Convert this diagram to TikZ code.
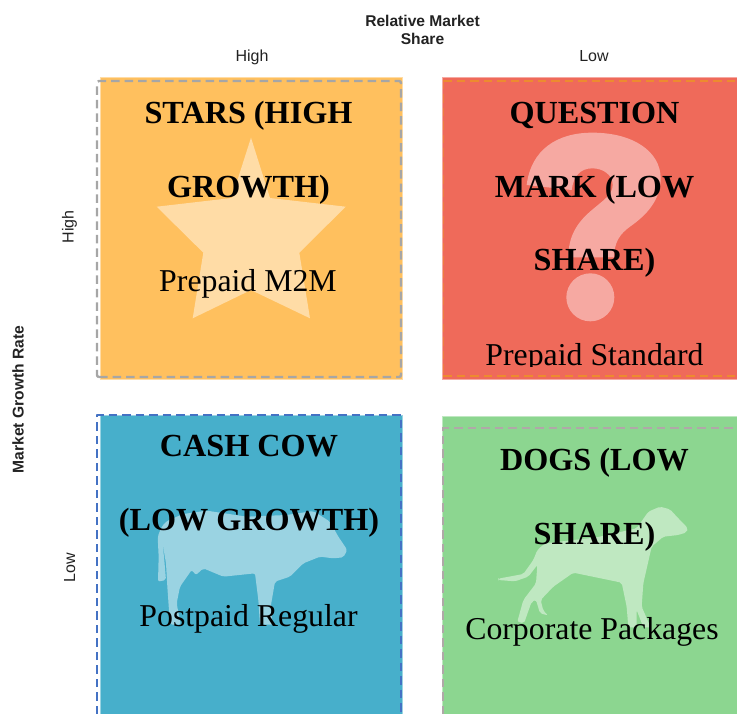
\documentclass[tikz,border=0pt]{standalone}
\usepackage{fontspec}
\setmainfont{Liberation Serif}
\setsansfont{Liberation Sans}
\definecolor{cOrange}{HTML}{FFC05E}
\definecolor{cOrangeL}{HTML}{FFDCA6}
\definecolor{cRed}{HTML}{EF6A5A}
\definecolor{cRedL}{HTML}{F6A9A2}
\definecolor{cBlue}{HTML}{47AFCB}
\definecolor{cBlueL}{HTML}{9AD3E2}
\definecolor{cGreen}{HTML}{8CD690}
\definecolor{cGreenL}{HTML}{BFE8C1}
\definecolor{dGray}{HTML}{A6A6A6}
\definecolor{dOrange}{HTML}{ED8B2F}
\definecolor{dBlue}{HTML}{4472C4}
\definecolor{dMauve}{HTML}{B0A8A8}
\definecolor{axisText}{HTML}{222222}
\tikzset{
  quad/.style={line width=0.8pt},
  dashline/.style={line width=2.4pt,dash pattern=on 8.5pt off 5pt,line join=round},
  dashthin/.style={line width=1.8pt,dash pattern=on 8.5pt off 5pt},
  title/.style={anchor=base,inner sep=0pt,font=\fontsize{32.2}{33}\selectfont\bfseries},
  item/.style={anchor=base,inner sep=0pt,font=\fontsize{31.8}{32}\selectfont},
  axisbold/.style={anchor=base,inner sep=0pt,text=axisText,font=\sffamily\fontsize{15.6}{16}\selectfont\bfseries},
  axislabel/.style={anchor=base,inner sep=0pt,text=axisText,font=\sffamily\fontsize{16}{16}\selectfont},
}
\begin{document}
\begin{tikzpicture}[x=1pt,y=-1pt]
\useasboundingbox (0,0) rectangle (737,714);
% quadrants
\draw[quad,fill=cOrange,draw=cOrangeL] (100,77) rectangle (402,379);
\draw[quad,fill=cRed,draw=cRedL] (442,77) rectangle (738,379);
\draw[quad,fill=cBlue,draw=cBlueL] (100,415) rectangle (402,715);
\draw[quad,fill=cGreen,draw=cGreenL] (442,416) rectangle (738,715);
% star
\fill[cOrangeL] (251,137.7)--(270,198)--(345.7,206.7)--(299.3,252.7)--(310,318.3)--(251,290)--(192.7,318.3)--(203.3,252.7)--(156.7,206.7)--(231.7,198)--cycle;
% question mark
\begin{scope}[shift={(430,60)},scale=1/3]
\fill[cRedL] (290,375) .. controls (303,270) and (380,218) .. (487,218)
  .. controls (610,218) and (692,275) .. (692,355)
  .. controls (692,420) and (650,465) .. (600,500)
  .. controls (570,522) and (553,545) .. (552,592)
  -- (415,592)
  .. controls (415,530) and (440,490) .. (480,455)
  .. controls (520,420) and (548,405) .. (548,375)
  .. controls (548,345) and (520,325) .. (487,325)
  .. controls (450,325) and (430,350) .. (425,390) -- cycle;
\fill[cRedL] (481,712) circle[radius=72];
\end{scope}
% cow
\begin{scope}[shift={(80,400)},scale=1/3]
\fill[cBlueL,rounded corners=2pt] (233,410) -- (245,380) -- (262,362) -- (310,342) -- (380,332) -- (500,350) -- (620,345) -- (700,333) -- (750,365) -- (775,410) -- (802,450) -- (790,472) -- (760,475) -- (720,470) -- (670,490) -- (630,530) -- (585,545) -- (572,620) -- (578,674) -- (540,674) -- (535,600) -- (525,520) -- (430,530) -- (370,505) -- (348,525) -- (335,510) -- (300,560) -- (290,610) -- (302,674) -- (270,674) -- (262,560) -- (258,490) -- (246,420) -- (252,470) -- (258,540) -- (234,545) -- (236,470) -- cycle;
\end{scope}
% dog
\begin{scope}[shift={(430,400)},scale=1/3]
\fill[cGreenL,rounded corners=2pt] (774,385) -- (745,355) -- (720,328) -- (690,320) -- (655,335) -- (620,385) -- (500,412) -- (345,430) -- (322,450) -- (310,480) -- (280,522) -- (205,536) -- (205,540) -- (255,544) -- (295,530) -- (322,495) -- (318,550) -- (280,600) -- (262,665) -- (282,670) -- (305,605) -- (318,600) -- (330,640) -- (354,646) -- (340,632) -- (332,600) -- (370,560) -- (430,518) -- (575,548) -- (590,620) -- (595,682) -- (620,682) -- (620,630) -- (640,682) -- (662,682) -- (635,620) -- (640,550) -- (665,440) -- (700,410) -- (745,405) -- (770,397) -- cycle;
\end{scope}
% dashed outlines
\draw[dashline,dGray,rounded corners=2pt] (97,377) -- (401,377) -- (401,81) -- (97,81) -- cycle;
\draw[dashthin,dOrange] (443,81) -- (737,81);
\draw[dashthin,dOrange] (443,376) -- (737,376);
\draw[dashthin,dOrange!60!cRed,line width=1pt] (443,81) -- (443,376);
\draw[dashline,dBlue] (97,714) -- (97,415) -- (401,415) -- (401,714);
\draw[dashthin,dMauve] (443,714) -- (443,428) -- (737,428);
% texts
\node[title] (st1) at (248.5,124) {STARS (HIGH};
\node[title] (st2) at (248.5,198) {GROWTH)};
\node[item] (st3) at (248,292) {Prepaid M2M};
\node[title] (qm1) at (594.5,124) {QUESTION};
\node[title] (qm2) at (594.5,198) {MARK (LOW};
\node[title] (qm3) at (594.5,271) {SHARE)};
\begin{scope}
\clip (442,330) rectangle (737,366);
\node[item] (qm4) at (594.5,365.5) {Prepaid Standard};
\end{scope}
\node[title] (cc1) at (249,456) {CASH COW};
\node[title] (cc2) at (249,530.5) {(LOW GROWTH)};
\node[item] (cc3) at (248.5,626) {Postpaid Regular};
\node[title] (dg1) at (594.5,470) {DOGS (LOW};
\node[title] (dg2) at (594.5,544) {SHARE)};
\node[item] (dg3) at (592,639) {Corporate Packages};
% axes
\node[axisbold] (rm1) at (422.5,26.5) {Relative Market};
\node[axisbold] (rm2) at (422.5,45) {Share};
\node[axislabel] (xh) at (252,61.5) {High};
\node[axislabel] (xl) at (594,61.5) {Low};
\node[axisbold,rotate=90] (mg) at (23.5,399.5) {Market Growth Rate};
\node[axislabel,rotate=90] (yh) at (73.5,227) {High};
\node[axislabel,rotate=90] (yl) at (75,568) {Low};
\end{tikzpicture}
\end{document}
